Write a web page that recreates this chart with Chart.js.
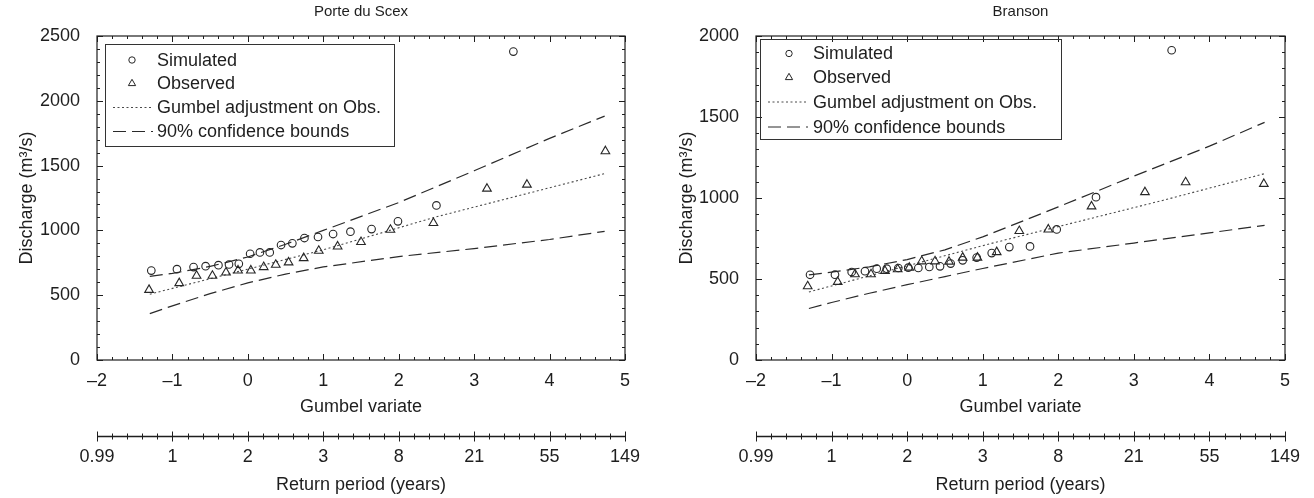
<!doctype html>
<html lang="en">
<head>
<meta charset="UTF-8" />
<title>Gumbel plots</title>
<script src="https://cdn.jsdelivr.net/npm/chart.js@4.4.1/dist/chart.umd.min.js"></script>
<style>
  html, body { margin: 0; padding: 0; background: #fff; }
  .wrap { position: relative; width: 1314px; height: 498px; }
  canvas { position: absolute; top: 0; }
  #scex { left: 0; }
  #branson { left: 660px; }
</style>
</head>
<body>
<div class="wrap">
  <canvas id="scex" width="660" height="498"></canvas>
  <canvas id="branson" width="654" height="498"></canvas>
</div>
<script>
// values (x = Gumbel variate, y = discharge m3/s)
const periodLabels = ["0.99", "1", "2", "3", "8", "21", "55", "149"];

// Porte du Scex
const scexSimX = [-1.28, -0.94, -0.72, -0.56, -0.39, -0.25, -0.12, 0.03, 0.16, 0.29, 0.44, 0.59, 0.75, 0.93, 1.13, 1.36, 1.64, 1.99, 2.5, 3.52];
const scexSimY = [690, 701, 717, 724, 732, 737, 742, 820, 830, 830, 887, 900, 941, 949, 972, 990, 1010, 1070, 1193, 2380];
const scexObsX = [-1.31, -0.91, -0.68, -0.47, -0.29, -0.13, 0.04, 0.21, 0.37, 0.54, 0.74, 0.94, 1.19, 1.5, 1.89, 2.46, 3.17, 3.7, 4.74];
const scexObsY = [541, 593, 650, 650, 675, 691, 691, 717, 735, 753, 786, 843, 876, 910, 1005, 1057, 1322, 1353, 1611];
const scexFitX = [-1.3, 1.0, 2.5, 4.73];
const scexFitY = [508, 850, 1105, 1438];
const scexBandX = [-1.3, -1.0, -0.5, 0, 0.5, 1, 2, 3, 4, 4.73];
const scexUpperY = [645, 668, 722, 795, 893, 1000, 1215, 1460, 1710, 1882];
const scexLowerY = [358, 418, 512, 595, 663, 718, 798, 860, 930, 993];

// Branson
const bransonSimX = [-1.285, -0.955, -0.734, -0.558, -0.403, -0.27, -0.117, 0.015, 0.148, 0.293, 0.435, 0.576, 0.735, 0.92, 1.119, 1.352, 1.626, 1.979, 2.499, 3.5];
const bransonSimY = [526, 527, 543, 548, 564, 564, 568, 570, 568, 574, 578, 595, 615, 632, 660, 697, 701, 806, 1005, 1912];
const bransonObsX = [-1.316, -0.919, -0.69, -0.478, -0.293, -0.125, 0.029, 0.193, 0.369, 0.554, 0.735, 0.93, 1.185, 1.484, 1.868, 2.44, 3.147, 3.685, 4.72];
const bransonObsY = [455, 482, 529, 529, 550, 560, 570, 609, 609, 607, 632, 632, 666, 796, 806, 948, 1036, 1097, 1087];
const bransonFitX = [-1.3, 1.1, 3.38, 4.72];
const bransonFitY = [420, 718, 985, 1149];
const bransonBandX = [-1.3, -1.0, -0.5, 0, 0.5, 1, 2, 3, 4, 4.73];
const bransonUpperY = [525, 542, 575, 620, 680, 760, 945, 1135, 1320, 1467];
const bransonLowerY = [318, 355, 412, 465, 515, 565, 660, 722, 785, 831];

const ink = "#1e1e1e";
const fontFamily = "'Liberation Sans', Arial, Helvetica, sans-serif";
Chart.defaults.font.family = fontFamily;
Chart.defaults.color = ink;

function series(label, xs, ys, style) {
  return Object.assign({ label: label, data: xs.map((x, i) => ({ x: x, y: ys[i] })) }, style);
}

const simStyle = { pointStyle: "circle", pointRadius: 3.8, pointBorderWidth: 1.1, borderColor: "#262626", backgroundColor: "rgba(0,0,0,0)", showLine: false };
const obsStyle = { pointStyle: "triangle", pointRadius: 5, pointBorderWidth: 1.1, borderColor: "#262626", backgroundColor: "rgba(0,0,0,0)", showLine: false };
const fitStyle = { showLine: true, pointRadius: 0, borderColor: "#4a4a4a", borderWidth: 1.1, borderDash: [2, 2.5] };
const boundStyle = { showLine: true, pointRadius: 0, borderColor: "#2a2a2a", borderWidth: 1.2, borderDash: [13, 6] };

// box, inward ticks, return-period ruler, title and legend
const framePlugin = {
  id: "frame",
  afterDraw(chart, args, opts) {
    const { ctx, chartArea: a } = chart;
    const x = chart.scales.x, y = chart.scales.y, x2 = chart.scales.x2;
    ctx.save();
    ctx.strokeStyle = ink;
    ctx.lineWidth = 1.2;
    ctx.strokeRect(a.left, a.top, a.right - a.left, a.bottom - a.top);

    ctx.lineWidth = 1;
    ctx.beginPath();
    for (let i = 0; i <= 35; i++) {
      const px = Math.round(x.getPixelForValue(-2 + i * 0.2)) + 0.5;
      const len = i % 5 === 0 ? 6 : 3;
      ctx.moveTo(px, a.bottom); ctx.lineTo(px, a.bottom - len);
      ctx.moveTo(px, a.top); ctx.lineTo(px, a.top + len);
    }
    for (let v = 0; v <= y.max; v += 100) {
      const py = Math.round(y.getPixelForValue(v)) + 0.5;
      const len = v % 500 === 0 ? 6 : 3;
      ctx.moveTo(a.left, py); ctx.lineTo(a.left + len, py);
      ctx.moveTo(a.right, py); ctx.lineTo(a.right - len, py);
    }
    ctx.stroke();

    // return period axis
    const ry = Math.round(x2.top + 18) + 0.5;
    ctx.lineWidth = 1.4;
    ctx.beginPath();
    ctx.moveTo(x2.getPixelForValue(-2), ry);
    ctx.lineTo(x2.getPixelForValue(5), ry);
    ctx.stroke();
    ctx.lineWidth = 1;
    ctx.beginPath();
    for (let i = 0; i <= 35; i++) {
      const px = Math.round(x2.getPixelForValue(-2 + i * 0.2)) + 0.5;
      const len = i % 5 === 0 ? 5 : 3;
      ctx.moveTo(px, ry - len); ctx.lineTo(px, ry + len);
    }
    ctx.stroke();

    // title
    ctx.fillStyle = ink;
    ctx.font = "15px " + fontFamily;
    ctx.textAlign = "center";
    ctx.textBaseline = "middle";
    ctx.fillText(opts.title, (a.left + a.right) / 2, 12);

    // legend
    const L = opts.legend;
    ctx.lineWidth = 1;
    ctx.strokeStyle = "#333";
    ctx.strokeRect(L.x + 0.5, L.y + 0.5, L.w, L.h);
    ctx.font = "18px " + fontFamily;
    ctx.textAlign = "left";
    const ds = chart.data.datasets;
    for (let i = 0; i < 4; i++) {
      const d = ds[i], ry2 = L.rows[i];
      ctx.strokeStyle = d.borderColor;
      ctx.beginPath();
      if (d.showLine) {
        ctx.setLineDash(d.borderDash);
        ctx.moveTo(L.lx0, ry2); ctx.lineTo(L.lx1, ry2);
        ctx.stroke();
        ctx.setLineDash([]);
      } else if (d.pointStyle === "circle") {
        ctx.arc(L.sx, ry2, 3.2, 0, Math.PI * 2);
        ctx.stroke();
      } else {
        const r = 4.2;
        ctx.moveTo(L.sx, ry2 - r);
        ctx.lineTo(L.sx + r * 0.866, ry2 + r * 0.5);
        ctx.lineTo(L.sx - r * 0.866, ry2 + r * 0.5);
        ctx.closePath();
        ctx.stroke();
      }
      ctx.fillStyle = ink;
      ctx.fillText(d.label, L.tx, ry2 + 1);
    }
    ctx.restore();
  }
};

function noOverhang(s, h) {
  s.height = h;
  s.paddingLeft = 0;
  s.paddingRight = 0;
}

function makeChart(id, cfg) {
  const axisFont = { size: 18, family: fontFamily };
  return new Chart(document.getElementById(id), {
    type: "scatter",
    data: {
      datasets: [
        series("Simulated", cfg.simX, cfg.simY, simStyle),
        series("Observed", cfg.obsX, cfg.obsY, obsStyle),
        series("Gumbel adjustment on Obs.", cfg.fitX, cfg.fitY, fitStyle),
        series("90% confidence bounds", cfg.bandX, cfg.upperY, boundStyle),
        series("90% confidence bounds", cfg.bandX, cfg.lowerY, boundStyle)
      ]
    },
    options: {
      responsive: false,
      animation: false,
      devicePixelRatio: 1,
      layout: { padding: { top: 36, right: cfg.padRight, left: 0, bottom: 0 } },
      plugins: {
        legend: { display: false },
        tooltip: { enabled: false },
        frame: { title: cfg.title, legend: cfg.legend }
      },
      scales: {
        x: {
          type: "linear", position: "bottom", weight: 0, min: -2, max: 5,
          grid: { display: false }, border: { display: false },
          ticks: {
            stepSize: 1, padding: 2, autoSkip: false, maxRotation: 0, color: ink, font: axisFont,
            callback: v => (v < 0 ? "\u2013" + Math.abs(v) : String(v))
          },
          title: { display: true, text: "Gumbel variate", color: ink, font: axisFont, padding: 0 },
          afterFit: s => noOverhang(s, 58)
        },
        x2: {
          type: "linear", position: "bottom", weight: 1, min: -2, max: 5,
          grid: { display: false }, border: { display: false },
          ticks: {
            stepSize: 1, padding: 20, autoSkip: false, maxRotation: 0, color: ink, font: axisFont,
            callback: (v, i) => periodLabels[i]
          },
          title: { display: true, text: "Return period (years)", color: ink, font: axisFont, padding: { top: 0, bottom: 2 } },
          afterFit: s => noOverhang(s, 80)
        },
        y: {
          type: "linear", position: "left", min: 0, max: cfg.yMax,
          grid: { display: false }, border: { display: false },
          ticks: { stepSize: 500, padding: 9, color: ink, font: axisFont, callback: v => String(v) },
          title: { display: true, text: "Discharge (m\u00b3/s)", color: ink, font: axisFont, padding: { top: 16, bottom: 0 } },
          afterFit: s => { s.width = cfg.yWidth; }
        }
      }
    },
    plugins: [framePlugin]
  });
}

makeChart("scex", {
  title: "Porte du Scex", yMax: 2500, yWidth: 97, padRight: 35,
  simX: scexSimX, simY: scexSimY, obsX: scexObsX, obsY: scexObsY,
  fitX: scexFitX, fitY: scexFitY, bandX: scexBandX, upperY: scexUpperY, lowerY: scexLowerY,
  legend: { x: 105, y: 44, w: 289, h: 102, rows: [60, 83.5, 107.5, 131.5], sx: 132, lx0: 113, lx1: 153, tx: 157 }
});

makeChart("branson", {
  title: "Branson", yMax: 2000, yWidth: 96, padRight: 29,
  simX: bransonSimX, simY: bransonSimY, obsX: bransonObsX, obsY: bransonObsY,
  fitX: bransonFitX, fitY: bransonFitY, bandX: bransonBandX, upperY: bransonUpperY, lowerY: bransonLowerY,
  legend: { x: 100, y: 39, w: 301, h: 100, rows: [53.5, 77.5, 102, 127], sx: 129, lx0: 108, lx1: 148, tx: 153 }
});
</script>
</body>
</html>
